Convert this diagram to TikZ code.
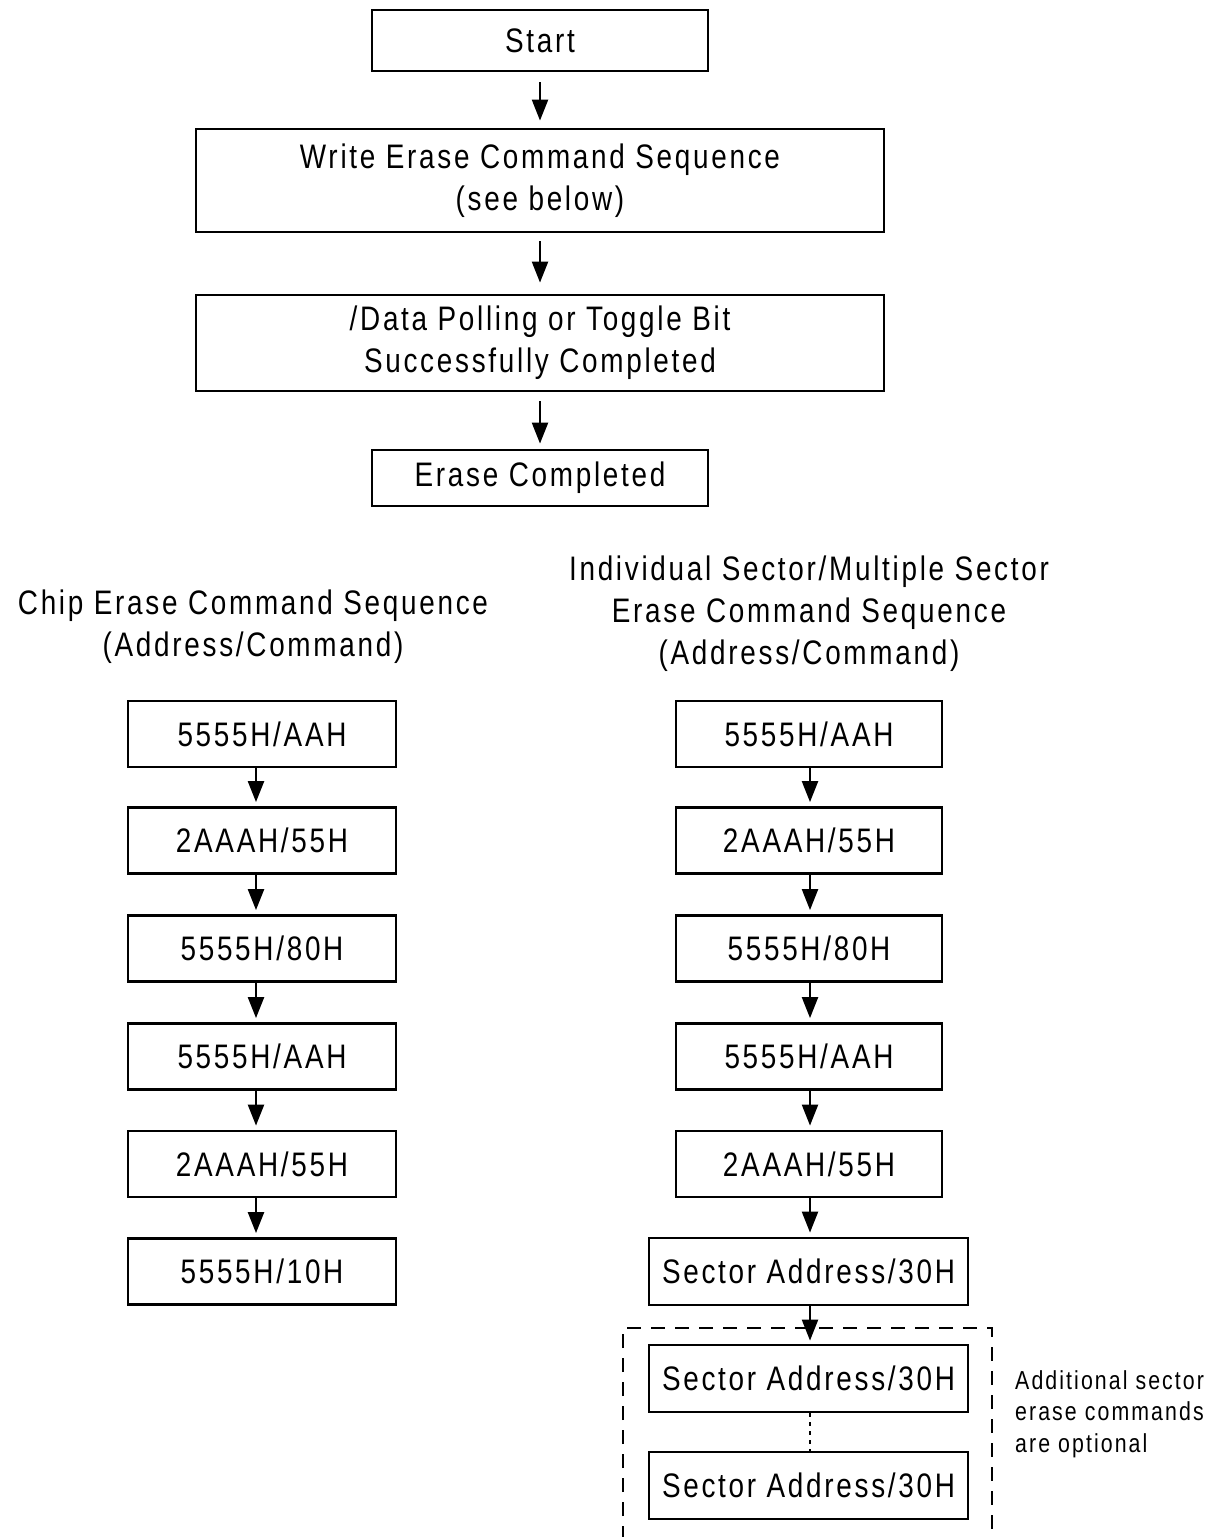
\documentclass[tikz,border=0pt]{standalone}
\usepackage{fontspec}
\setmainfont{Liberation Sans}[FakeStretch=0.82,LetterSpace=8]
\usetikzlibrary{arrows.meta}
\begin{document}
\begin{tikzpicture}[x=1pt,y=-1pt,
  box/.style={draw,line width=2.8pt,inner sep=0pt,font=\fontsize{34}{42}\selectfont,align=center},
  head/.style={inner sep=0pt,font=\fontsize{34}{42}\selectfont,align=center},
  note/.style={inner sep=0pt,font=\fontsize{26}{31.5}\selectfont,align=left},
  arr/.style={line width=2.2pt,-{Triangle[length=21pt,width=16pt]}},
  dashbox/.style={line width=2.8pt,dash pattern=on 14pt off 10pt},
  dotline/.style={line width=2.2pt,dash pattern=on 4pt off 5pt}]
\useasboundingbox (0,0) rectangle (1209,1537);
% top flow
\node[box,minimum width=336pt,minimum height=61pt] (start) at (540,40.5) {Start};
\node[box,minimum width=688pt,minimum height=103pt] (write) at (540,180.5) {Write Erase Command Sequence\\(see below)};
\node[box,minimum width=688pt,minimum height=96pt] (poll) at (540,343) {/Data Polling or Toggle Bit\\Successfully Completed};
\node[box,minimum width=336pt,minimum height=56pt] (done) at (540,478) {Erase Completed};
\draw[arr,shorten <=10pt,shorten >=7pt] (start) -- (write);
\draw[arr,shorten <=8pt,shorten >=11pt] (write) -- (poll);
\draw[arr,shorten <=9pt,shorten >=5pt] (poll) -- (done);
% headings
\node[head] (lhead) at (253,627) {Chip Erase Command Sequence\\(Address/Command)};
\node[head] (rhead) at (809,614) {Individual Sector/Multiple Sector\\Erase Command Sequence\\(Address/Command)};
% columns
\foreach \i/\y/\t in {1/734/{5555H/AAH},2/840.5/{2AAAH/55H},3/948.5/{5555H/80H},4/1056.5/{5555H/AAH},5/1164/{2AAAH/55H}}{
  \node[box,minimum width=268pt,minimum height=66pt] (l\i) at (262,\y) {\t};
  \node[box,minimum width=266pt,minimum height=66pt] (r\i) at (809,\y) {\t};
}
\node[box,minimum width=268pt,minimum height=66pt] (l6) at (262,1271.5) {5555H/10H};
\node[box,minimum width=319pt,minimum height=67pt] (r7) at (808.5,1271.5) {Sector Address/30H};
\node[box,minimum width=319pt,minimum height=67pt] (r8) at (808.5,1378.5) {Sector Address/30H};
\node[box,minimum width=319pt,minimum height=67pt] (r9) at (808.5,1485.5) {Sector Address/30H};
\foreach \a/\b in {1/2,2/3,3/4,4/5,5/6}{
  \draw[arr,shorten >=4pt] ([xshift=-6pt]l\a.south) -- ([xshift=-6pt]l\b.north);
}
\foreach \a/\b in {1/2,2/3,3/4,4/5}{
  \draw[arr,shorten >=4pt] ([xshift=1pt]r\a.south) -- ([xshift=1pt]r\b.north);
}
\draw[arr,shorten >=4pt] ([xshift=1pt]r5.south) -- ([xshift=1.5pt]r7.north);
\draw[arr,shorten >=3pt] ([xshift=1.5pt]r7.south) -- ([xshift=1.5pt]r8.north);
\draw[dotline] ([xshift=1.5pt]r8.south) -- ([xshift=1.5pt]r9.north);
% dashed region
\coordinate (dbl) at (623,1540);
\coordinate (dtl) at (623,1328);
\coordinate (dtr) at (992,1328);
\coordinate (dbr) at (992,1540);
\draw[dashbox] (dbl) -- (dtl) -- (dtr) -- (dbr);
\node[note,anchor=west] (note) at (1015,1414) {Additional sector\\erase commands\\are optional};
\end{tikzpicture}
\end{document}
